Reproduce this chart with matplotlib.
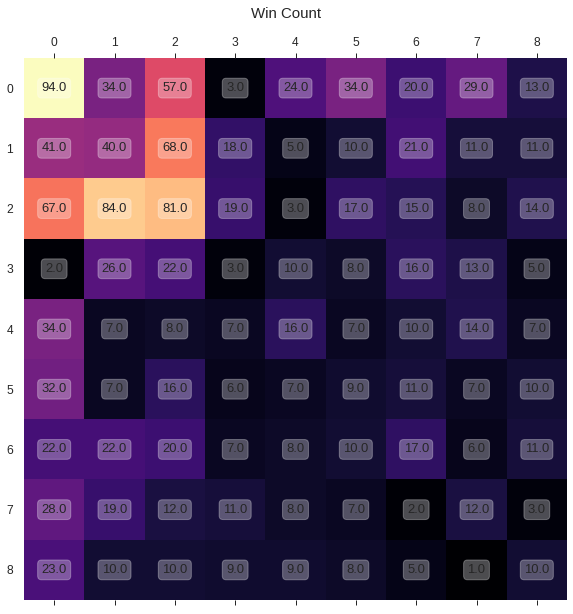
import matplotlib
matplotlib.use('Agg')
import matplotlib.pyplot as plt
import numpy as np
import seaborn as sns

sns.set_style('ticks')
plt.rcParams['font.family'] = ['Liberation Sans', 'DejaVu Sans']

rows = list(range(9))
cols = list(range(9))
wins = [
    [94, 34, 57, 3, 24, 34, 20, 29, 13],
    [41, 40, 68, 18, 5, 10, 21, 11, 11],
    [67, 84, 81, 19, 3, 17, 15, 8, 14],
    [2, 26, 22, 3, 10, 8, 16, 13, 5],
    [34, 7, 8, 7, 16, 7, 10, 14, 7],
    [32, 7, 16, 6, 7, 9, 11, 7, 10],
    [22, 22, 20, 7, 8, 10, 17, 6, 11],
    [28, 19, 12, 11, 8, 7, 2, 12, 3],
    [23, 10, 10, 9, 9, 8, 5, 1, 10],
]

data = np.array(wins, dtype=float)

fig = plt.figure(figsize=(573 / 72, 614 / 72), dpi=72)
ax = fig.add_axes([24 / 573, 1 - 600 / 614, 543 / 573, 542 / 614])
ax.matshow(data, cmap='magma', aspect='auto')

for i in rows:
    for j in cols:
        ax.text(j, i, f'{data[i, j]:.1f}', ha='center', va='center',
                fontsize=13, color='#262626',
                bbox=dict(boxstyle='round,pad=0.3', facecolor='white',
                          edgecolor='white', alpha=0.3))

ax.set_xticks(cols)
ax.set_yticks(rows)
ax.set_xticklabels([str(c) for c in cols], fontsize=12, color='#262626')
ax.set_yticklabels([str(r) for r in rows], fontsize=12, color='#262626')
ax.tick_params(axis='x', top=True, bottom=True, labeltop=True,
               labelbottom=False, length=5, width=1, color='#262626')
ax.tick_params(axis='y', left=False, length=0, pad=11)
for s in ax.spines.values():
    s.set_visible(False)

fig.suptitle('Win Count', y=1 - 14 / 614, va='center', fontsize=15,
             color='#262626')

fig.savefig('out.png', dpi=72)
